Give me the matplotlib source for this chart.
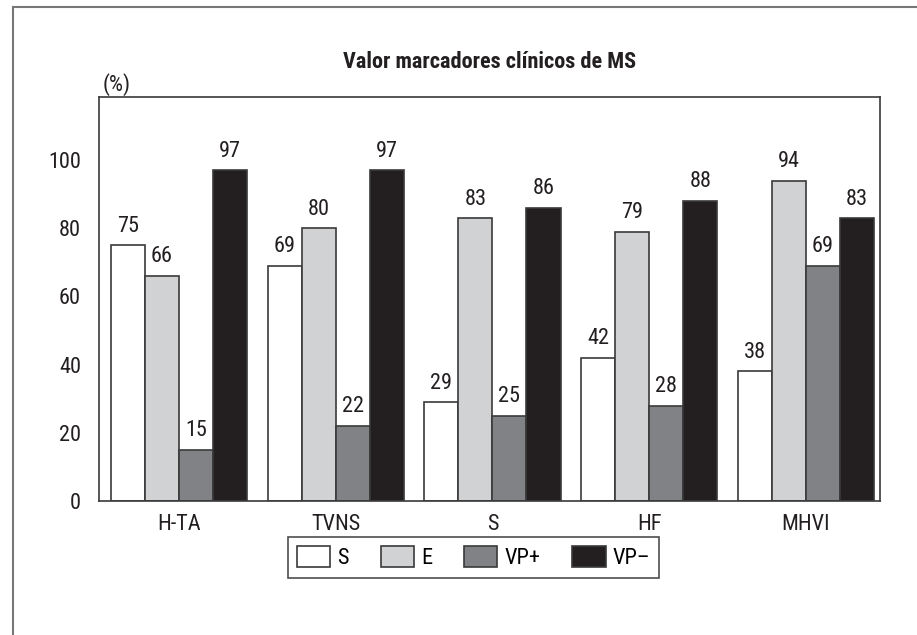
import numpy as np
import matplotlib
matplotlib.use('Agg')
from matplotlib import pyplot as plt
from matplotlib.lines import Line2D

plt.rcParams['font.family'] = ['Roboto Condensed', 'DejaVu Sans']

# data
categories = ['H-TA', 'TVNS', 'S', 'HF', 'MHVI']
series_names = ['S', 'E', 'VP+', 'VP\u2013']
s_vals = [75, 69, 29, 42, 38]
e_vals = [66, 80, 83, 79, 94]
vpp_vals = [15, 22, 25, 28, 69]
vpm_vals = [97, 97, 86, 88, 83]

colors = ['#ffffff', '#d1d2d4', '#808285', '#231f20']
edge = '#3a3a3a'
FS = 16

fig = plt.figure(figsize=(9.17, 6.35), dpi=100)
W, H = 917, 635
ax = fig.add_axes([99 / W, 1 - 501 / H, (880 - 99) / W, (501 - 97) / H])

x = np.arange(len(categories))
bw = 0.217
for i, vals in enumerate([s_vals, e_vals, vpp_vals, vpm_vals]):
    pos = x + (i - 1.5) * bw
    ax.bar(pos, vals, width=bw, color=colors[i], edgecolor=edge, linewidth=1.2,
           label=series_names[i])
    for p, v in zip(pos, vals):
        ax.text(p, v + 2.5, str(v), ha='center', va='bottom', fontsize=FS, color='#231f20')

ax.set_xlim(-0.51, 4.472)
ax.set_ylim(0, 118.5)
ax.set_yticks([0, 20, 40, 60, 80, 100])
ax.set_xticks(x)
ax.set_xticklabels(categories)
ax.tick_params(length=0, labelsize=FS, colors='#231f20')
ax.tick_params(axis='y', pad=13)
ax.tick_params(axis='x', pad=9)
for sp in ax.spines.values():
    sp.set_color(edge)
    sp.set_linewidth(1.2)

fig.text(490 / W, 1 - 62 / H, 'Valor marcadores clínicos de MS', ha='center', va='center',
         fontsize=FS, fontweight='bold', color='#231f20')
fig.text(117 / W, 1 - 85 / H, '(%)', ha='center', va='center', fontsize=FS, color='#231f20')

leg = ax.legend(loc='center', bbox_to_anchor=(473.5 / W, 1 - 557.5 / H),
                bbox_transform=fig.transFigure, ncol=4, frameon=True, fancybox=False,
                fontsize=FS, handlelength=1.5, handleheight=1.1, handletextpad=0.3,
                columnspacing=1.45, borderpad=0.4, borderaxespad=0)
leg.get_frame().set_edgecolor('#231f20')
leg.get_frame().set_linewidth(1.2)

# outer frame (top and left edges)
fig.add_artist(Line2D([13 / W, 13 / W], [0, 1 - 7 / H], transform=fig.transFigure,
                      color='#777777', linewidth=1.5))
fig.add_artist(Line2D([13 / W, 1], [1 - 7 / H, 1 - 7 / H], transform=fig.transFigure,
                      color='#777777', linewidth=1.5))

fig.savefig('out.png', dpi=100)
